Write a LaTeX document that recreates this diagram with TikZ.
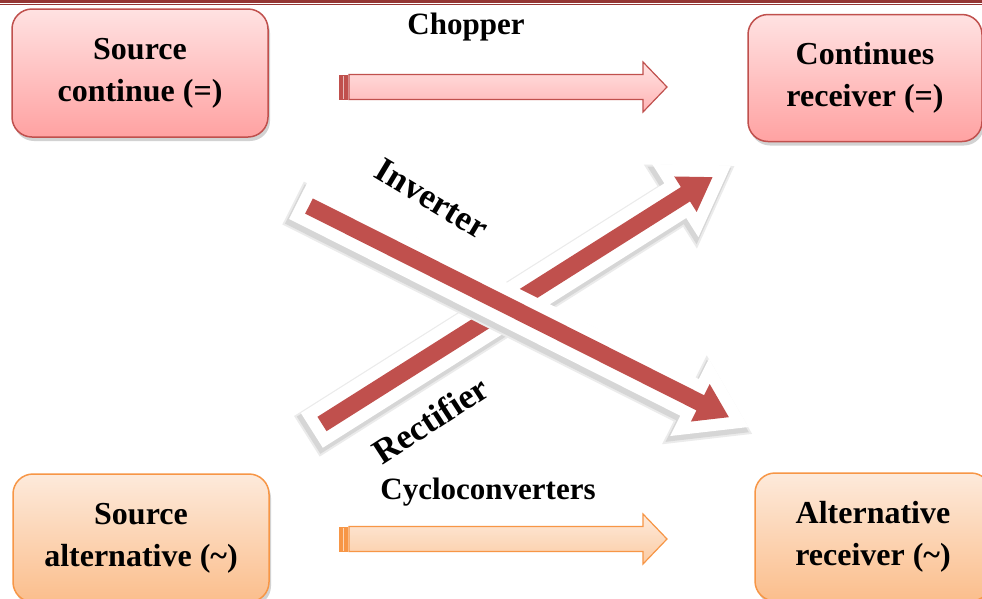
\documentclass[tikz,border=0pt]{standalone}
\usepackage{fontspec}
\setmainfont{Liberation Serif}[BoldFont={Liberation Serif Bold}]
\usepackage{xcolor}
\usepackage{tikz}
\usetikzlibrary{shadows}
\usetikzlibrary{calc}

\definecolor{redline}{HTML}{C0504D}
\definecolor{dctop}{HTML}{FFE2E2}
\definecolor{dcbottom}{HTML}{FFA2A2}
\definecolor{orangeline}{HTML}{F79646}
\definecolor{actop}{HTML}{FDEADB}
\definecolor{acbottom}{HTML}{FBBE8C}
\definecolor{ruleline}{HTML}{943634}

\newcommand{\boxfont}{\fontsize{32}{42}\selectfont\bfseries}
\newcommand{\labelfont}{\fontsize{31}{36}\selectfont\bfseries}
\newcommand{\slantfont}{\fontsize{35}{40}\selectfont\bfseries}

% style, tail, angle, length, shaft, head width, head length
\newcommand{\blockarrow}[7]{%
        \begin{scope}[shift={(#2)}, rotate=#3]
                \path[#1] (0,-#5/2) -- (#4-#7,-#5/2) -- (#4-#7,-#6/2) -- (#4,0)
                        -- (#4-#7,#6/2) -- (#4-#7,#5/2) -- (0,#5/2) -- cycle;
        \end{scope}}

\begin{document}
\begin{tikzpicture}[x=1pt, y=-1pt]
                \tikzstyle{dcbox}  = [rectangle, rounded corners=20pt, draw=redline, line width=1.5pt, top color=dctop, bottom color=dcbottom, drop shadow={shadow xshift=2pt, shadow yshift=-4pt, opacity=0.35}, align=center, font=\boxfont, inner sep=0pt]
                \tikzstyle{acbox}  = [dcbox, draw=orangeline, top color=actop, bottom color=acbottom]
                \tikzstyle{dcarrow} = [draw=redline, line width=1.2pt, top color=dctop, bottom color=dcbottom!80!white]
                \tikzstyle{acarrow} = [draw=orangeline, line width=1.2pt, top color=actop, bottom color=acbottom!80!white]
                \tikzstyle{haze} = [draw=black!8, fill=black!8, line width=31pt, line join=miter]
                \tikzstyle{bigshadow} = [draw=black!16, fill=black!16, line width=27pt, line join=miter]
                \tikzstyle{bigrim} = [draw=white, fill=white, line width=24pt, line join=miter]
                \tikzstyle{bigbody} = [fill=redline]
                \tikzstyle{lbl} = [font=\labelfont, inner sep=0pt]

                \useasboundingbox (0,0) rectangle (982,598);
                \fill[white] (0,0) rectangle (982,598);
                \draw[ruleline, line width=2.6pt] (0,1.3) -- (982,1.3);
                \draw[ruleline, line width=0.8pt] (0,4.6) -- (982,4.6);

                % boxes
                \node[dcbox, minimum width=256pt, minimum height=128pt](srcdc) at (140,73) {Source\\continue (=)};
                \node[dcbox, minimum width=234pt, minimum height=127pt](recdc) at (865,78) {Continues\\receiver (=)};
                \node[acbox, minimum width=256pt, minimum height=128pt](srcac) at (141,538) {Source\\alternative (\textasciitilde)};
                \node[acbox, minimum width=236pt, minimum height=128pt](recac) at (873,537) {Alternative\\receiver (\textasciitilde)};

                % arrow ends
                \coordinate (chopT) at (349,87);
                \coordinate (cycT) at (349,539);
                \coordinate (invT) at (309,206);
                \coordinate (recT) at (322,424);
                \coordinate (invS) at (307,210);
                \coordinate (recS) at (320,428);

                % horizontal arrows
                \blockarrow{dcarrow}{chopT}{0}{318}{25}{50}{24}
                \fill[redline] (339,75) rectangle (348,100);
                \draw[white!60!redline, line width=1pt] (343,76) -- (343,99);
                \blockarrow{acarrow}{cycT}{0}{318}{25}{50}{24}
                \fill[orangeline] (339,527) rectangle (348,552);
                \draw[white!60!orangeline, line width=1pt] (343,528) -- (343,551);

                % crossing arrows
                \blockarrow{haze}{recS}{32.3}{462}{17}{42}{32}
                \blockarrow{bigshadow}{recS}{32.3}{462}{17}{42}{32}
                \blockarrow{bigrim}{recT}{32.3}{462}{17}{42}{32}
                \blockarrow{bigbody}{recT}{32.3}{462}{17}{42}{32}
                \blockarrow{haze}{invS}{-26.7}{470}{17}{42}{32}
                \blockarrow{bigshadow}{invS}{-26.7}{470}{17}{42}{32}
                \blockarrow{bigrim}{invT}{-26.7}{470}{17}{42}{32}
                \blockarrow{bigbody}{invT}{-26.7}{470}{17}{42}{32}

                % labels
                \node[lbl](chopper) at (466,27) {Chopper};
                \node[lbl](cyclo) at (488,492) {Cycloconverters};
                \node[lbl, font=\slantfont, rotate=-31](inverter) at (432,199) {Inverter};
                \node[lbl, font=\slantfont, rotate=33](rectifier) at (430,420) {Rectifier};
\end{tikzpicture}
\end{document}
